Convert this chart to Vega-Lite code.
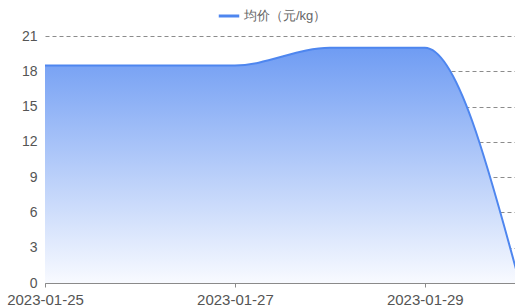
{
  "$schema": "https://vega.github.io/schema/vega-lite/v6.json",
  "autosize": {"type": "none"},
  "width": 470,
  "height": 247,
  "padding": {"left": 45, "top": 36, "right": 0, "bottom": 24},
  "background": "white",
  "config": {"view": {"stroke": null}, "font": "Liberation Sans"},
  "data": {"values": [
    {"date": "2023-01-25", "price": 18.5},
    {"date": "2023-01-26", "price": 18.5},
    {"date": "2023-01-27", "price": 18.5},
    {"date": "2023-01-28", "price": 20},
    {"date": "2023-01-29", "price": 20},
    {"date": "2023-01-30", "price": 0}
  ]},
  "encoding": {
    "x": {
      "field": "date", "type": "temporal",
      "scale": {"type": "utc", "domain": [
        {"year": 2023, "month": 1, "date": 25, "utc": true},
        {"year": 2023, "month": 1, "date": 29, "hours": 22, "minutes": 48, "utc": true}
      ]},
      "axis": {
        "title": null,
        "values": [
          {"year": 2023, "month": 1, "date": 25, "utc": true},
          {"year": 2023, "month": 1, "date": 27, "utc": true},
          {"year": 2023, "month": 1, "date": 29, "utc": true}
        ],
        "format": "%Y-%m-%d",
        "grid": false,
        "domainColor": "#8a8a8a",
        "tickColor": "#8a8a8a",
        "tickSize": 4,
        "labelFontSize": 15,
        "labelColor": "#555555",
        "labelPadding": 5,
        "labelFlush": false,
        "labelOverlap": false
      }
    },
    "y": {
      "field": "price", "type": "quantitative",
      "scale": {"domain": [0, 21], "nice": false},
      "axis": {
        "title": null,
        "values": [0, 3, 6, 9, 12, 15, 18, 21],
        "domain": false,
        "ticks": false,
        "grid": true,
        "gridDash": [4, 3],
        "gridColor": "#8c8c8c",
        "labelFontSize": 14,
        "labelColor": "#555555",
        "labelPadding": 8
      }
    }
  },
  "layer": [
    {
      "mark": {
        "type": "area", "interpolate": "monotone", "clip": true,
        "fill": {
          "x1": 0, "y1": 0, "x2": 0, "y2": 1, "gradient": "linear",
          "stops": [
            {"offset": 0, "color": "#6f9cf3"},
            {"offset": 1, "color": "#f8faff"}
          ]
        }
      }
    },
    {
      "mark": {"type": "line", "interpolate": "monotone", "clip": true, "strokeWidth": 2},
      "encoding": {
        "color": {
          "datum": "均价（元/kg）",
          "scale": {"range": ["#4e86ef"]},
          "legend": {
            "title": null,
            "orient": "none",
            "legendX": 172,
            "legendY": -32,
            "symbolType": "stroke",
            "symbolStrokeWidth": 3,
            "symbolSize": 420,
            "labelFontSize": 13,
            "labelColor": "#666666",
            "labelOffset": 3
          }
        }
      }
    }
  ]
}
